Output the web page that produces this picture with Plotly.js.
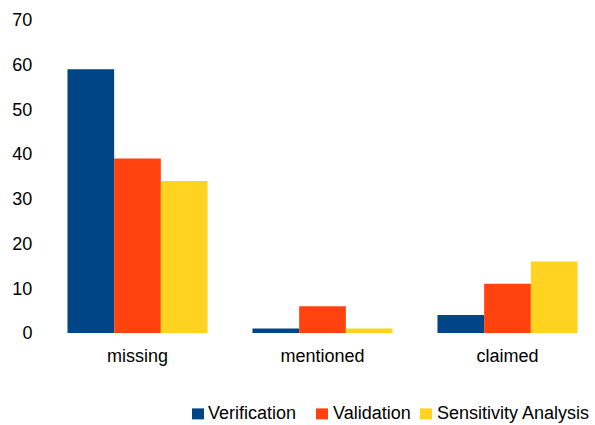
<!DOCTYPE html>
<html><head><meta charset="utf-8">
<script src="https://cdn.plot.ly/plotly-3.0.1.min.js"></script>
<style>html,body{margin:0;padding:0;background:#fff}#c{width:595px;height:425px}</style>
</head><body><div id="c"></div>
<script>
const categories = ["missing", "mentioned", "claimed"];
const seriesNames = ["Verification", "Validation", "Sensitivity Analysis"];
const verification = [59, 1, 4];
const validation = [39, 6, 11];
const sensitivity = [34, 1, 16];
const yTicks = [0, 10, 20, 30, 40, 50, 60, 70];
const colors = ["#004586", "#ff420e", "#ffd320"];

const W = 595, H = 425, ML = 45, MR = 0, MT = 19.5, MB = 92;
const pw = W - ML - MR, ph = H - MT - MB;
const px2x = p => (p - ML) / pw;
const py2y = p => (H - MB - p) / ph;

const vals = [verification, validation, sensitivity];
const traces = seriesNames.map((n, i) => ({
  type: "bar", name: n, x: categories, y: vals[i],
  marker: {color: colors[i], line: {width: 0}}, hoverinfo: "none"
}));

// custom legend (matching reference placement)
const legSquares = [192, 316, 420];
const legTexts = [206, 330.5, 434.5];
const shapes = seriesNames.map((n, i) => ({
  type: "rect", xref: "paper", yref: "paper",
  x0: px2x(legSquares[i]), x1: px2x(legSquares[i] + 12),
  y0: py2y(419.5), y1: py2y(408.5),
  fillcolor: colors[i], line: {width: 0}
}));
const annotations = seriesNames.map((n, i) => ({
  text: n, xref: "paper", yref: "paper",
  x: px2x(legTexts[i]), y: py2y(413.5), xanchor: "left", yanchor: "middle",
  showarrow: false, font: {size: 18, color: "#000"}
}));

const layout = {
  width: W, height: H,
  margin: {l: ML, r: MR, t: MT, b: MB, pad: 0},
  paper_bgcolor: "#fff", plot_bgcolor: "#fff",
  font: {family: "Liberation Sans, Arial, sans-serif", size: 18, color: "#000"},
  bargap: 0.243, bargroupgap: 0, barmode: "group",
  xaxis: {range: [-0.5, 2.473], showgrid: false, zeroline: false, showline: false,
          ticks: "outside", ticklen: 6, tickcolor: "rgba(0,0,0,0)", tickfont: {size: 18}},
  yaxis: {range: [0, 70], tickvals: yTicks, showgrid: false, zeroline: false, showline: false,
          ticks: "outside", ticklen: 8, tickcolor: "rgba(0,0,0,0)", tickfont: {size: 18}},
  showlegend: false,
  shapes: shapes, annotations: annotations
};
Plotly.newPlot("c", traces, layout, {staticPlot: true, displayModeBar: false});
</script></body></html>
